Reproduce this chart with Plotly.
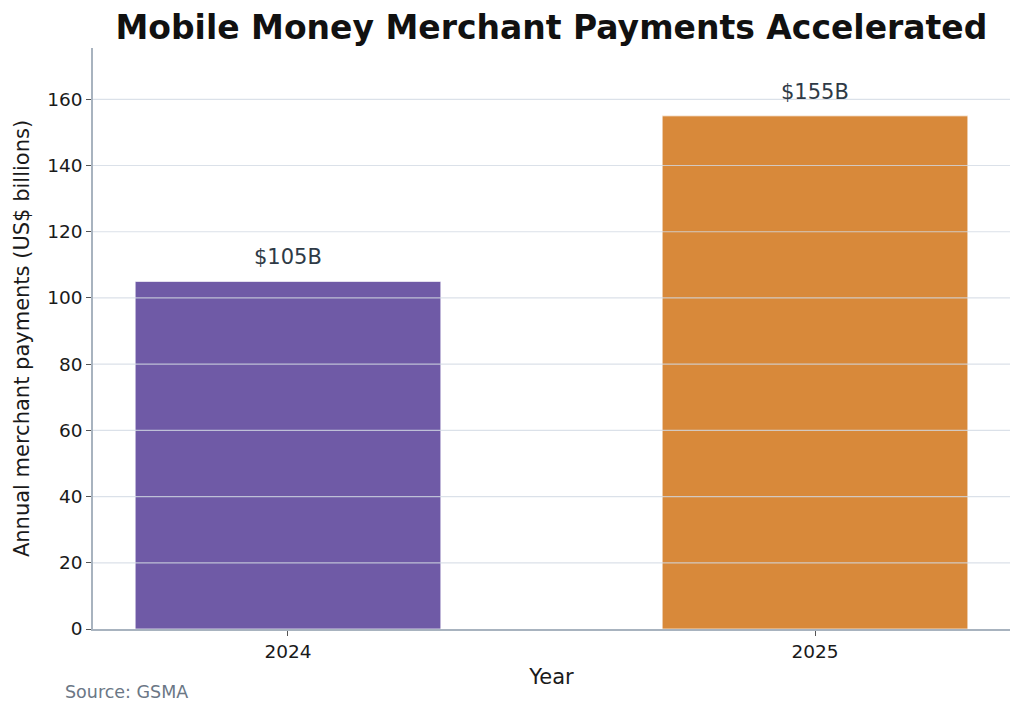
import plotly.graph_objects as go

years = ["2024", "2025"]
payments = [105, 155]
labels = ["$105B", "$155B"]
colors = ["#6f5aa6", "#d8893a"]
y_ticks = [0, 20, 40, 60, 80, 100, 120, 140, 160]

fig = go.Figure()
fig.add_trace(go.Bar(
    x=years, y=payments, width=0.58,
    marker=dict(color=colors, line=dict(color="rgba(255,255,255,0.7)", width=1)),
    hoverinfo="skip",
))

for i, (val, lab) in enumerate(zip(payments, labels)):
    fig.add_annotation(x=i, y=val, text=lab, showarrow=False, yanchor="bottom",
                       yshift=10, font=dict(size=21, color="#2e3a46",
                                            family="DejaVu Sans"))

for t in y_ticks[1:]:
    fig.add_shape(type="line", xref="paper", x0=0, x1=1, yref="y", y0=t, y1=t,
                  line=dict(color="rgba(210,218,228,0.8)", width=1.2), layer="above")

fig.add_annotation(xref="paper", yref="paper", x=-0.033, y=-0.088, xanchor="left",
                   yanchor="top", text="Source: GSMA", showarrow=False,
                   font=dict(size=17.5, color="#6b7785", family="DejaVu Sans"))

fig.update_layout(
    width=1024, height=714,
    margin=dict(l=93, r=14, t=48, b=85),
    paper_bgcolor="white", plot_bgcolor="white",
    font=dict(family="DejaVu Sans", color="#1a1a1a"),
    title=dict(text="<b>Mobile Money Merchant Payments Accelerated</b>",
               x=0.5385, xanchor="center", y=0.962, yanchor="middle",
               font=dict(size=33, color="#111111")),
    showlegend=False,
    xaxis=dict(type="category", range=[-0.37, 1.37], showgrid=False, showline=True,
               linecolor="#a8b3bf", linewidth=1.5, ticks="outside", ticklen=5,
               tickcolor="#555555", tickfont=dict(size=18.5, color="#1a1a1a"),
               title=dict(text="Year", font=dict(size=21), standoff=8)),
    yaxis=dict(range=[0, 175.5], tickvals=y_ticks, showgrid=False,
               showline=True, linecolor="#a8b3bf", linewidth=1.5,
               ticks="outside", ticklen=5, tickcolor="#555555",
               tickfont=dict(size=18.5, color="#1a1a1a"), zeroline=False,
               title=dict(text="Annual merchant payments (US$ billions)",
                          font=dict(size=21), standoff=12)),
)

fig.write_html("out.html")
